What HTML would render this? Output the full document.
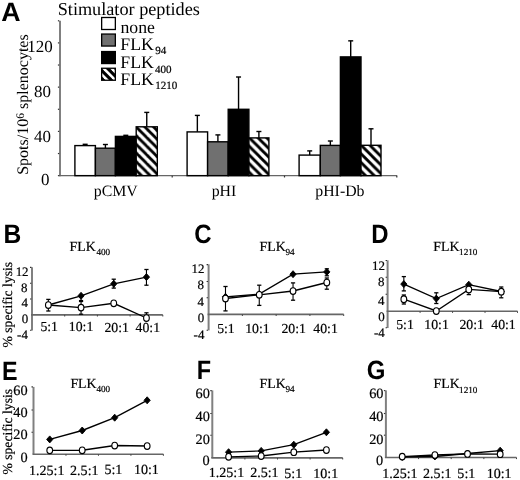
<!DOCTYPE html>
<html><head><meta charset="utf-8"><style>
html,body{margin:0;padding:0;background:#fff;overflow:hidden;}
svg{display:block;text-rendering:geometricPrecision;will-change:transform;}
.r{font-family:"Liberation Serif",serif;}
.s{font-family:"Liberation Sans",sans-serif;}
.b{stroke:#000;stroke-width:0.2px;}
</style></head><body>
<svg width="520" height="480" viewBox="0 0 520 480">
<defs>
<pattern id="h1" patternUnits="userSpaceOnUse" x="0" y="0" width="8.67" height="8.67"><rect width="8.67" height="8.67" fill="#000"/><polygon points="0,-15.98 8.67,-7.31 8.67,-2.61 0,-11.28" fill="#fff"/><polygon points="0,-7.31 8.67,1.36 8.67,6.06 0,-2.61" fill="#fff"/><polygon points="0,1.36 8.67,10.03 8.67,14.73 0,6.06" fill="#fff"/><polygon points="0,10.03 8.67,18.7 8.67,23.4 0,14.73" fill="#fff"/></pattern>
<pattern id="h2" patternUnits="userSpaceOnUse" x="0" y="0" width="8.67" height="8.67"><rect width="8.67" height="8.67" fill="#000"/><polygon points="0,-14.27 8.67,-5.6 8.67,-0.9 0,-9.57" fill="#fff"/><polygon points="0,-5.6 8.67,3.07 8.67,7.77 0,-0.9" fill="#fff"/><polygon points="0,3.07 8.67,11.74 8.67,16.44 0,7.77" fill="#fff"/><polygon points="0,11.74 8.67,20.41 8.67,25.11 0,16.44" fill="#fff"/></pattern>
<pattern id="h3" patternUnits="userSpaceOnUse" x="0" y="0" width="8.67" height="8.67"><rect width="8.67" height="8.67" fill="#000"/><polygon points="0,-14.56 8.67,-5.89 8.67,-1.19 0,-9.86" fill="#fff"/><polygon points="0,-5.89 8.67,2.78 8.67,7.48 0,-1.19" fill="#fff"/><polygon points="0,2.78 8.67,11.45 8.67,16.15 0,7.48" fill="#fff"/><polygon points="0,11.45 8.67,20.12 8.67,24.82 0,16.15" fill="#fff"/></pattern>
<pattern id="hL" patternUnits="userSpaceOnUse" x="0" y="0" width="8.0" height="8.0"><rect width="8.0" height="8.0" fill="#000"/><polygon points="0,-13.0 8.0,-5.0 8.0,-1.4 0,-9.4" fill="#fff"/><polygon points="0,-5.0 8.0,3.0 8.0,6.6 0,-1.4" fill="#fff"/><polygon points="0,3.0 8.0,11.0 8.0,14.6 0,6.6" fill="#fff"/><polygon points="0,11.0 8.0,19.0 8.0,22.6 0,14.6" fill="#fff"/></pattern>
</defs>
<rect width="520" height="480" fill="#fff"/>
<text class="s" transform="translate(1.22,20.75) scale(1.007,1)" font-size="26.54" font-weight="bold">A</text>
<text class="s" transform="translate(3.59,243.0) scale(0.927,1)" font-size="26.54" font-weight="bold">B</text>
<text class="s" transform="translate(194.23,243.01) scale(0.903,1)" font-size="26.54" font-weight="bold">C</text>
<text class="s" transform="translate(371.23,243.0) scale(0.901,1)" font-size="26.54" font-weight="bold">D</text>
<text class="s" transform="translate(1.94,379.5) scale(0.878,1)" font-size="26.54" font-weight="bold">E</text>
<text class="s" transform="translate(196.65,378.5) scale(0.884,1)" font-size="26.54" font-weight="bold">F</text>
<text class="s" transform="translate(366.65,379.33) scale(0.904,1)" font-size="26.54" font-weight="bold">G</text>
<text class="r" transform="translate(57.69,14.7)" font-size="18.23">Stimulator peptides</text>
<rect x="101.65" y="17.5" width="13.7" height="12.0" fill="#fff" stroke="#000" stroke-width="1.3"/>
<rect x="101.65" y="34.05" width="13.7" height="12.0" fill="#707070" stroke="#000" stroke-width="1.3"/>
<rect x="101.65" y="51.55" width="13.7" height="12.0" fill="#000" stroke="#000" stroke-width="1.3"/>
<rect x="101.65" y="68.25" width="13.7" height="12.0" fill="url(#hL)" stroke="#000" stroke-width="1.3"/>
<text class="r" transform="translate(120.48,33.45)" font-size="17.73">none</text>
<text class="r" transform="translate(120.37,50.0)" font-size="17.73">FLK</text>
<text class="r" transform="translate(120.37,68.25)" font-size="17.73">FLK</text>
<text class="r" transform="translate(120.37,84.75)" font-size="17.73">FLK</text>
<text class="r b" transform="translate(155.29,53.93)" font-size="11.06">94</text>
<text class="r b" transform="translate(154.93,72.93)" font-size="11.06">400</text>
<text class="r b" transform="translate(155.13,89.43)" font-size="11.06">1210</text>
<line x1="60" y1="20.7" x2="60" y2="176.35" stroke="#808080" stroke-width="2"/>
<line x1="59" y1="175.65" x2="397.2" y2="175.65" stroke="#666666" stroke-width="1.4"/>
<line x1="57.9" y1="175.65" x2="59.2" y2="175.65" stroke="#333" stroke-width="1.2"/>
<line x1="57.9" y1="153.53" x2="59.2" y2="153.53" stroke="#333" stroke-width="1.2"/>
<line x1="57.9" y1="131.4" x2="59.2" y2="131.4" stroke="#333" stroke-width="1.2"/>
<line x1="57.9" y1="109.28" x2="59.2" y2="109.28" stroke="#333" stroke-width="1.2"/>
<line x1="57.9" y1="87.15" x2="59.2" y2="87.15" stroke="#333" stroke-width="1.2"/>
<line x1="57.9" y1="65.03" x2="59.2" y2="65.03" stroke="#333" stroke-width="1.2"/>
<line x1="57.9" y1="42.9" x2="59.2" y2="42.9" stroke="#333" stroke-width="1.2"/>
<line x1="57.9" y1="20.78" x2="59.2" y2="20.78" stroke="#333" stroke-width="1.2"/>
<line x1="172.2" y1="175.65" x2="172.2" y2="177.45" stroke="#333" stroke-width="1.2"/>
<line x1="284.5" y1="175.65" x2="284.5" y2="177.45" stroke="#333" stroke-width="1.2"/>
<line x1="396.8" y1="175.65" x2="396.8" y2="177.45" stroke="#333" stroke-width="1.2"/>
<text class="r" transform="translate(27.32,51.89)" font-size="16.94">120</text>
<text class="r" transform="translate(34.02,96.91)" font-size="16.94">80</text>
<text class="r" transform="translate(34.08,141.94)" font-size="16.94">40</text>
<text class="r" transform="translate(41.09,184.89)" font-size="16.94">0</text>
<text class="r" transform="translate(28.0,174.86) rotate(-90)" font-size="16.03">Spots/10<tspan font-size="0.72em" dy="-0.382em">6</tspan><tspan dy="0.275em"> splenocytes</tspan></text>
<line x1="85.15" y1="144.3" x2="85.15" y2="145.6" stroke="#000" stroke-width="1.4"/>
<line x1="82.65" y1="144.3" x2="87.65" y2="144.3" stroke="#000" stroke-width="1.4"/>
<rect x="74.9" y="145.6" width="20.5" height="30.05" fill="#fff" stroke="#000" stroke-width="1.4"/>
<line x1="105.4" y1="144.5" x2="105.4" y2="148.2" stroke="#000" stroke-width="1.4"/>
<line x1="102.9" y1="144.5" x2="107.9" y2="144.5" stroke="#000" stroke-width="1.4"/>
<rect x="95.4" y="148.2" width="20.0" height="27.45" fill="#707070" stroke="#000" stroke-width="1.4"/>
<line x1="125.8" y1="135.3" x2="125.8" y2="136.4" stroke="#000" stroke-width="1.4"/>
<line x1="123.3" y1="135.3" x2="128.3" y2="135.3" stroke="#000" stroke-width="1.4"/>
<rect x="115.4" y="136.4" width="20.8" height="39.25" fill="#000" stroke="#000" stroke-width="1.4"/>
<line x1="146.75" y1="112.4" x2="146.75" y2="126.8" stroke="#000" stroke-width="1.4"/>
<line x1="144.25" y1="112.4" x2="149.25" y2="112.4" stroke="#000" stroke-width="1.4"/>
<rect x="136.2" y="126.8" width="21.1" height="48.85" fill="url(#h1)" stroke="#000" stroke-width="1.4"/>
<line x1="197.35" y1="115.4" x2="197.35" y2="131.9" stroke="#000" stroke-width="1.4"/>
<line x1="194.85" y1="115.4" x2="199.85" y2="115.4" stroke="#000" stroke-width="1.4"/>
<rect x="187.1" y="131.9" width="20.5" height="43.75" fill="#fff" stroke="#000" stroke-width="1.4"/>
<line x1="217.9" y1="134.9" x2="217.9" y2="141.8" stroke="#000" stroke-width="1.4"/>
<line x1="215.4" y1="134.9" x2="220.4" y2="134.9" stroke="#000" stroke-width="1.4"/>
<rect x="207.6" y="141.8" width="20.6" height="33.85" fill="#707070" stroke="#000" stroke-width="1.4"/>
<line x1="238.55" y1="77.0" x2="238.55" y2="109.3" stroke="#000" stroke-width="1.4"/>
<line x1="236.05" y1="77.0" x2="241.05" y2="77.0" stroke="#000" stroke-width="1.4"/>
<rect x="228.2" y="109.3" width="20.7" height="66.35" fill="#000" stroke="#000" stroke-width="1.4"/>
<line x1="258.9" y1="131.5" x2="258.9" y2="137.9" stroke="#000" stroke-width="1.4"/>
<line x1="256.4" y1="131.5" x2="261.4" y2="131.5" stroke="#000" stroke-width="1.4"/>
<rect x="248.9" y="137.9" width="20.0" height="37.75" fill="url(#h2)" stroke="#000" stroke-width="1.4"/>
<line x1="309.7" y1="150.9" x2="309.7" y2="155.1" stroke="#000" stroke-width="1.4"/>
<line x1="307.2" y1="150.9" x2="312.2" y2="150.9" stroke="#000" stroke-width="1.4"/>
<rect x="299.1" y="155.1" width="21.2" height="20.55" fill="#fff" stroke="#000" stroke-width="1.4"/>
<line x1="330.35" y1="141.0" x2="330.35" y2="145.4" stroke="#000" stroke-width="1.4"/>
<line x1="327.85" y1="141.0" x2="332.85" y2="141.0" stroke="#000" stroke-width="1.4"/>
<rect x="320.3" y="145.4" width="20.1" height="30.25" fill="#707070" stroke="#000" stroke-width="1.4"/>
<line x1="350.7" y1="40.85" x2="350.7" y2="56.9" stroke="#000" stroke-width="1.4"/>
<line x1="348.2" y1="40.85" x2="353.2" y2="40.85" stroke="#000" stroke-width="1.4"/>
<rect x="340.4" y="56.9" width="20.6" height="118.75" fill="#000" stroke="#000" stroke-width="1.4"/>
<line x1="371.0" y1="128.8" x2="371.0" y2="145.3" stroke="#000" stroke-width="1.4"/>
<line x1="368.5" y1="128.8" x2="373.5" y2="128.8" stroke="#000" stroke-width="1.4"/>
<rect x="361.0" y="145.3" width="20.0" height="30.35" fill="url(#h3)" stroke="#000" stroke-width="1.4"/>
<text class="r" transform="translate(93.72,195.6)" font-size="15.85">pCMV</text>
<text class="r" transform="translate(211.68,195.5)" font-size="15.85">pHI</text>
<text class="r" transform="translate(315.26,195.84)" font-size="15.85">pHI-Db</text>
<text class="r b" transform="translate(69.62,251.0)" font-size="13.83">FLK</text>
<text class="r b" transform="translate(96.38,254.94)" font-size="9.18">400</text>
<line x1="32" y1="267.2" x2="32" y2="330.6" stroke="#808080" stroke-width="2"/>
<line x1="31" y1="314.9" x2="162.8" y2="314.9" stroke="#666666" stroke-width="1.6"/>
<line x1="64.7" y1="314.9" x2="64.7" y2="316.5" stroke="#444" stroke-width="1"/>
<line x1="97.4" y1="314.9" x2="97.4" y2="316.5" stroke="#444" stroke-width="1"/>
<line x1="130.1" y1="314.9" x2="130.1" y2="316.5" stroke="#444" stroke-width="1"/>
<line x1="162.8" y1="314.9" x2="162.8" y2="316.5" stroke="#444" stroke-width="1"/>
<line x1="30" y1="267.4" x2="31.4" y2="267.4" stroke="#333" stroke-width="1.1"/>
<line x1="30" y1="283.2" x2="31.4" y2="283.2" stroke="#333" stroke-width="1.1"/>
<line x1="30" y1="299.0" x2="31.4" y2="299.0" stroke="#333" stroke-width="1.1"/>
<line x1="30" y1="330.2" x2="31.4" y2="330.2" stroke="#333" stroke-width="1.1"/>
<line x1="48.35" y1="299.4" x2="48.35" y2="311" stroke="#000" stroke-width="1.1"/>
<line x1="46.25" y1="299.4" x2="50.45" y2="299.4" stroke="#000" stroke-width="1.3"/>
<line x1="46.25" y1="311" x2="50.45" y2="311" stroke="#000" stroke-width="1.3"/>
<line x1="81.05" y1="295.8" x2="81.05" y2="300.6" stroke="#000" stroke-width="1.1"/>
<line x1="78.95" y1="300.6" x2="83.15" y2="300.6" stroke="#000" stroke-width="1.3"/>
<line x1="113.75" y1="279.2" x2="113.75" y2="288.1" stroke="#000" stroke-width="1.1"/>
<line x1="111.65" y1="279.2" x2="115.85" y2="279.2" stroke="#000" stroke-width="1.3"/>
<line x1="111.65" y1="288.1" x2="115.85" y2="288.1" stroke="#000" stroke-width="1.3"/>
<line x1="146.45" y1="269.5" x2="146.45" y2="285.2" stroke="#000" stroke-width="1.1"/>
<line x1="144.35" y1="269.5" x2="148.55" y2="269.5" stroke="#000" stroke-width="1.3"/>
<line x1="144.35" y1="285.2" x2="148.55" y2="285.2" stroke="#000" stroke-width="1.3"/>
<line x1="81.05" y1="301.5" x2="81.05" y2="314.2" stroke="#000" stroke-width="1.1"/>
<line x1="78.95" y1="301.5" x2="83.15" y2="301.5" stroke="#000" stroke-width="1.3"/>
<line x1="78.95" y1="314.2" x2="83.15" y2="314.2" stroke="#000" stroke-width="1.3"/>
<line x1="146.45" y1="312.8" x2="146.45" y2="318" stroke="#000" stroke-width="1.1"/>
<line x1="144.35" y1="312.8" x2="148.55" y2="312.8" stroke="#000" stroke-width="1.3"/>
<polyline points="48.35,305 81.05,295.8 113.75,283.8 146.45,277.1" fill="none" stroke="#000" stroke-width="1.35"/>
<polyline points="48.35,305 81.05,307.6 113.75,303.3 146.45,318" fill="none" stroke="#000" stroke-width="1.35"/>
<path d="M48.35 301.5L51.45 305L48.35 308.5L45.25 305Z" fill="#000" stroke="#000" stroke-width="0.9" stroke-linejoin="round"/>
<path d="M81.05 292.3L84.15 295.8L81.05 299.3L77.95 295.8Z" fill="#000" stroke="#000" stroke-width="0.9" stroke-linejoin="round"/>
<path d="M113.75 280.3L116.85 283.8L113.75 287.3L110.65 283.8Z" fill="#000" stroke="#000" stroke-width="0.9" stroke-linejoin="round"/>
<path d="M146.45 273.6L149.55 277.1L146.45 280.6L143.35 277.1Z" fill="#000" stroke="#000" stroke-width="0.9" stroke-linejoin="round"/>
<ellipse cx="48.35" cy="305" rx="2.85" ry="3.3" fill="#fff" stroke="#000" stroke-width="1.15"/>
<ellipse cx="81.05" cy="307.6" rx="2.85" ry="3.3" fill="#fff" stroke="#000" stroke-width="1.15"/>
<ellipse cx="113.75" cy="303.3" rx="2.85" ry="3.3" fill="#fff" stroke="#000" stroke-width="1.15"/>
<ellipse cx="146.45" cy="318" rx="2.85" ry="3.3" fill="#fff" stroke="#000" stroke-width="1.15"/>
<text class="r b" transform="translate(259.62,251.0)" font-size="13.83">FLK</text>
<text class="r b" transform="translate(285.49,254.94)" font-size="9.18">94</text>
<line x1="208.6" y1="264.3" x2="208.6" y2="330.4" stroke="#808080" stroke-width="2"/>
<line x1="207.6" y1="314.4" x2="343.7" y2="314.4" stroke="#666666" stroke-width="1.6"/>
<line x1="242.38" y1="314.4" x2="242.38" y2="316.0" stroke="#444" stroke-width="1"/>
<line x1="276.15" y1="314.4" x2="276.15" y2="316.0" stroke="#444" stroke-width="1"/>
<line x1="309.92" y1="314.4" x2="309.92" y2="316.0" stroke="#444" stroke-width="1"/>
<line x1="343.7" y1="314.4" x2="343.7" y2="316.0" stroke="#444" stroke-width="1"/>
<line x1="206.6" y1="264.6" x2="208.0" y2="264.6" stroke="#333" stroke-width="1.1"/>
<line x1="206.6" y1="281.5" x2="208.0" y2="281.5" stroke="#333" stroke-width="1.1"/>
<line x1="206.6" y1="297.8" x2="208.0" y2="297.8" stroke="#333" stroke-width="1.1"/>
<line x1="206.6" y1="330.2" x2="208.0" y2="330.2" stroke="#333" stroke-width="1.1"/>
<line x1="326.81" y1="268.8" x2="326.81" y2="275.8" stroke="#000" stroke-width="1.1"/>
<line x1="324.71" y1="268.8" x2="328.91" y2="268.8" stroke="#000" stroke-width="1.3"/>
<line x1="324.71" y1="275.8" x2="328.91" y2="275.8" stroke="#000" stroke-width="1.3"/>
<line x1="225.49" y1="286.5" x2="225.49" y2="310.9" stroke="#000" stroke-width="1.1"/>
<line x1="223.39" y1="286.5" x2="227.59" y2="286.5" stroke="#000" stroke-width="1.3"/>
<line x1="223.39" y1="310.9" x2="227.59" y2="310.9" stroke="#000" stroke-width="1.3"/>
<line x1="259.26" y1="285.2" x2="259.26" y2="305.4" stroke="#000" stroke-width="1.1"/>
<line x1="257.16" y1="285.2" x2="261.36" y2="285.2" stroke="#000" stroke-width="1.3"/>
<line x1="257.16" y1="305.4" x2="261.36" y2="305.4" stroke="#000" stroke-width="1.3"/>
<line x1="293.04" y1="282.9" x2="293.04" y2="300.2" stroke="#000" stroke-width="1.1"/>
<line x1="290.94" y1="282.9" x2="295.14" y2="282.9" stroke="#000" stroke-width="1.3"/>
<line x1="290.94" y1="300.2" x2="295.14" y2="300.2" stroke="#000" stroke-width="1.3"/>
<line x1="326.81" y1="278" x2="326.81" y2="289.2" stroke="#000" stroke-width="1.1"/>
<line x1="324.71" y1="278" x2="328.91" y2="278" stroke="#000" stroke-width="1.3"/>
<line x1="324.71" y1="289.2" x2="328.91" y2="289.2" stroke="#000" stroke-width="1.3"/>
<polyline points="225.49,296.8 259.26,294.2 293.04,274.2 326.81,271.9" fill="none" stroke="#000" stroke-width="1.35"/>
<polyline points="225.49,298.5 259.26,294.8 293.04,291 326.81,282.5" fill="none" stroke="#000" stroke-width="1.35"/>
<path d="M225.49 293.3L228.59 296.8L225.49 300.3L222.39 296.8Z" fill="#000" stroke="#000" stroke-width="0.9" stroke-linejoin="round"/>
<path d="M259.26 290.7L262.36 294.2L259.26 297.7L256.16 294.2Z" fill="#000" stroke="#000" stroke-width="0.9" stroke-linejoin="round"/>
<path d="M293.04 270.7L296.14 274.2L293.04 277.7L289.94 274.2Z" fill="#000" stroke="#000" stroke-width="0.9" stroke-linejoin="round"/>
<path d="M326.81 268.4L329.91 271.9L326.81 275.4L323.71 271.9Z" fill="#000" stroke="#000" stroke-width="0.9" stroke-linejoin="round"/>
<ellipse cx="225.49" cy="298.5" rx="2.85" ry="3.3" fill="#fff" stroke="#000" stroke-width="1.15"/>
<ellipse cx="259.26" cy="294.8" rx="2.85" ry="3.3" fill="#fff" stroke="#000" stroke-width="1.15"/>
<ellipse cx="293.04" cy="291" rx="2.85" ry="3.3" fill="#fff" stroke="#000" stroke-width="1.15"/>
<ellipse cx="326.81" cy="282.5" rx="2.85" ry="3.3" fill="#fff" stroke="#000" stroke-width="1.15"/>
<text class="r b" transform="translate(433.31,251.0)" font-size="13.83">FLK</text>
<text class="r b" transform="translate(459.05,254.94)" font-size="9.18">1210</text>
<line x1="387.6" y1="260.3" x2="387.6" y2="328.0" stroke="#808080" stroke-width="2"/>
<line x1="386.6" y1="311.3" x2="517.5" y2="311.3" stroke="#666666" stroke-width="1.6"/>
<line x1="420.08" y1="311.3" x2="420.08" y2="312.9" stroke="#444" stroke-width="1"/>
<line x1="452.55" y1="311.3" x2="452.55" y2="312.9" stroke="#444" stroke-width="1"/>
<line x1="485.02" y1="311.3" x2="485.02" y2="312.9" stroke="#444" stroke-width="1"/>
<line x1="517.5" y1="311.3" x2="517.5" y2="312.9" stroke="#444" stroke-width="1"/>
<line x1="385.6" y1="260.5" x2="387.0" y2="260.5" stroke="#333" stroke-width="1.1"/>
<line x1="385.6" y1="277.3" x2="387.0" y2="277.3" stroke="#333" stroke-width="1.1"/>
<line x1="385.6" y1="294.2" x2="387.0" y2="294.2" stroke="#333" stroke-width="1.1"/>
<line x1="385.6" y1="327.8" x2="387.0" y2="327.8" stroke="#333" stroke-width="1.1"/>
<line x1="403.84" y1="276.6" x2="403.84" y2="290.9" stroke="#000" stroke-width="1.1"/>
<line x1="401.74" y1="276.6" x2="405.94" y2="276.6" stroke="#000" stroke-width="1.3"/>
<line x1="401.74" y1="290.9" x2="405.94" y2="290.9" stroke="#000" stroke-width="1.3"/>
<line x1="436.31" y1="292.8" x2="436.31" y2="303.5" stroke="#000" stroke-width="1.1"/>
<line x1="434.21" y1="292.8" x2="438.41" y2="292.8" stroke="#000" stroke-width="1.3"/>
<line x1="434.21" y1="303.5" x2="438.41" y2="303.5" stroke="#000" stroke-width="1.3"/>
<line x1="501.26" y1="287" x2="501.26" y2="297.8" stroke="#000" stroke-width="1.1"/>
<line x1="499.16" y1="287" x2="503.36" y2="287" stroke="#000" stroke-width="1.3"/>
<line x1="499.16" y1="297.8" x2="503.36" y2="297.8" stroke="#000" stroke-width="1.3"/>
<line x1="403.84" y1="295" x2="403.84" y2="304" stroke="#000" stroke-width="1.1"/>
<line x1="401.74" y1="295" x2="405.94" y2="295" stroke="#000" stroke-width="1.3"/>
<line x1="401.74" y1="304" x2="405.94" y2="304" stroke="#000" stroke-width="1.3"/>
<line x1="468.79" y1="285.6" x2="468.79" y2="294.6" stroke="#000" stroke-width="1.1"/>
<line x1="466.69" y1="285.6" x2="470.89" y2="285.6" stroke="#000" stroke-width="1.3"/>
<line x1="466.69" y1="294.6" x2="470.89" y2="294.6" stroke="#000" stroke-width="1.3"/>
<polyline points="403.84,284.1 436.31,298.6 468.79,284.7 501.26,291.5" fill="none" stroke="#000" stroke-width="1.35"/>
<polyline points="403.84,299.2 436.31,311 468.79,289.4 501.26,291.7" fill="none" stroke="#000" stroke-width="1.35"/>
<path d="M403.84 280.6L406.94 284.1L403.84 287.6L400.74 284.1Z" fill="#000" stroke="#000" stroke-width="0.9" stroke-linejoin="round"/>
<path d="M436.31 295.1L439.41 298.6L436.31 302.1L433.21 298.6Z" fill="#000" stroke="#000" stroke-width="0.9" stroke-linejoin="round"/>
<path d="M468.79 281.2L471.89 284.7L468.79 288.2L465.69 284.7Z" fill="#000" stroke="#000" stroke-width="0.9" stroke-linejoin="round"/>
<path d="M501.26 288.0L504.36 291.5L501.26 295.0L498.16 291.5Z" fill="#000" stroke="#000" stroke-width="0.9" stroke-linejoin="round"/>
<ellipse cx="403.84" cy="299.2" rx="2.85" ry="3.3" fill="#fff" stroke="#000" stroke-width="1.15"/>
<ellipse cx="436.31" cy="311" rx="2.85" ry="3.3" fill="#fff" stroke="#000" stroke-width="1.15"/>
<ellipse cx="468.79" cy="289.4" rx="2.85" ry="3.3" fill="#fff" stroke="#000" stroke-width="1.15"/>
<ellipse cx="501.26" cy="291.7" rx="2.85" ry="3.3" fill="#fff" stroke="#000" stroke-width="1.15"/>
<text class="r b" transform="translate(70.42,388.0)" font-size="13.83">FLK</text>
<text class="r b" transform="translate(96.38,392.44)" font-size="9.18">400</text>
<line x1="33.5" y1="386.9" x2="33.5" y2="454.2" stroke="#808080" stroke-width="2"/>
<line x1="32.5" y1="454.2" x2="163.4" y2="454.2" stroke="#666666" stroke-width="1.6"/>
<line x1="65.97" y1="454.2" x2="65.97" y2="455.8" stroke="#444" stroke-width="1"/>
<line x1="98.45" y1="454.2" x2="98.45" y2="455.8" stroke="#444" stroke-width="1"/>
<line x1="130.93" y1="454.2" x2="130.93" y2="455.8" stroke="#444" stroke-width="1"/>
<line x1="163.4" y1="454.2" x2="163.4" y2="455.8" stroke="#444" stroke-width="1"/>
<line x1="31.5" y1="386.9" x2="32.9" y2="386.9" stroke="#333" stroke-width="1.1"/>
<line x1="31.5" y1="410" x2="32.9" y2="410" stroke="#333" stroke-width="1.1"/>
<line x1="31.5" y1="432.2" x2="32.9" y2="432.2" stroke="#333" stroke-width="1.1"/>
<polyline points="49.74,439.4 82.21,430.5 114.69,417.7 147.16,400.3" fill="none" stroke="#000" stroke-width="1.35"/>
<polyline points="49.74,450.35 82.21,450.25 114.69,445.5 147.16,446" fill="none" stroke="#000" stroke-width="1.35"/>
<path d="M49.74 435.9L52.84 439.4L49.74 442.9L46.64 439.4Z" fill="#000" stroke="#000" stroke-width="0.9" stroke-linejoin="round"/>
<path d="M82.21 427.0L85.31 430.5L82.21 434.0L79.11 430.5Z" fill="#000" stroke="#000" stroke-width="0.9" stroke-linejoin="round"/>
<path d="M114.69 414.2L117.79 417.7L114.69 421.2L111.59 417.7Z" fill="#000" stroke="#000" stroke-width="0.9" stroke-linejoin="round"/>
<path d="M147.16 396.8L150.26 400.3L147.16 403.8L144.06 400.3Z" fill="#000" stroke="#000" stroke-width="0.9" stroke-linejoin="round"/>
<ellipse cx="49.74" cy="450.35" rx="2.85" ry="3.3" fill="#fff" stroke="#000" stroke-width="1.15"/>
<ellipse cx="82.21" cy="450.25" rx="2.85" ry="3.3" fill="#fff" stroke="#000" stroke-width="1.15"/>
<ellipse cx="114.69" cy="445.5" rx="2.85" ry="3.3" fill="#fff" stroke="#000" stroke-width="1.15"/>
<ellipse cx="147.16" cy="446" rx="2.85" ry="3.3" fill="#fff" stroke="#000" stroke-width="1.15"/>
<text class="r b" transform="translate(259.62,388.0)" font-size="13.83">FLK</text>
<text class="r b" transform="translate(285.49,392.44)" font-size="9.18">94</text>
<line x1="212.3" y1="390.4" x2="212.3" y2="457.9" stroke="#808080" stroke-width="2"/>
<line x1="211.3" y1="457.9" x2="342.7" y2="457.9" stroke="#666666" stroke-width="1.6"/>
<line x1="244.9" y1="457.9" x2="244.9" y2="459.5" stroke="#444" stroke-width="1"/>
<line x1="277.5" y1="457.9" x2="277.5" y2="459.5" stroke="#444" stroke-width="1"/>
<line x1="310.1" y1="457.9" x2="310.1" y2="459.5" stroke="#444" stroke-width="1"/>
<line x1="342.7" y1="457.9" x2="342.7" y2="459.5" stroke="#444" stroke-width="1"/>
<line x1="210.3" y1="390.6" x2="211.7" y2="390.6" stroke="#333" stroke-width="1.1"/>
<line x1="210.3" y1="413.5" x2="211.7" y2="413.5" stroke="#333" stroke-width="1.1"/>
<line x1="210.3" y1="435.2" x2="211.7" y2="435.2" stroke="#333" stroke-width="1.1"/>
<polyline points="228.6,452.2 261.2,450.9 293.8,444.7 326.4,432.3" fill="none" stroke="#000" stroke-width="1.35"/>
<polyline points="228.6,456.8 261.2,456 293.8,452.2 326.4,450.0" fill="none" stroke="#000" stroke-width="1.35"/>
<path d="M228.6 448.7L231.7 452.2L228.6 455.7L225.5 452.2Z" fill="#000" stroke="#000" stroke-width="0.9" stroke-linejoin="round"/>
<path d="M261.2 447.4L264.3 450.9L261.2 454.4L258.1 450.9Z" fill="#000" stroke="#000" stroke-width="0.9" stroke-linejoin="round"/>
<path d="M293.8 441.2L296.9 444.7L293.8 448.2L290.7 444.7Z" fill="#000" stroke="#000" stroke-width="0.9" stroke-linejoin="round"/>
<path d="M326.4 428.8L329.5 432.3L326.4 435.8L323.3 432.3Z" fill="#000" stroke="#000" stroke-width="0.9" stroke-linejoin="round"/>
<ellipse cx="228.6" cy="456.8" rx="2.85" ry="3.3" fill="#fff" stroke="#000" stroke-width="1.15"/>
<ellipse cx="261.2" cy="456" rx="2.85" ry="3.3" fill="#fff" stroke="#000" stroke-width="1.15"/>
<ellipse cx="293.8" cy="452.2" rx="2.85" ry="3.3" fill="#fff" stroke="#000" stroke-width="1.15"/>
<ellipse cx="326.4" cy="450.0" rx="2.85" ry="3.3" fill="#fff" stroke="#000" stroke-width="1.15"/>
<text class="r b" transform="translate(433.5,388.0)" font-size="13.83">FLK</text>
<text class="r b" transform="translate(459.05,392.94)" font-size="9.18">1210</text>
<line x1="385.9" y1="390.4" x2="385.9" y2="457.5" stroke="#808080" stroke-width="2"/>
<line x1="384.9" y1="457.5" x2="516.5" y2="457.5" stroke="#666666" stroke-width="1.6"/>
<line x1="418.55" y1="457.5" x2="418.55" y2="459.1" stroke="#444" stroke-width="1"/>
<line x1="451.2" y1="457.5" x2="451.2" y2="459.1" stroke="#444" stroke-width="1"/>
<line x1="483.85" y1="457.5" x2="483.85" y2="459.1" stroke="#444" stroke-width="1"/>
<line x1="516.5" y1="457.5" x2="516.5" y2="459.1" stroke="#444" stroke-width="1"/>
<line x1="383.9" y1="390.6" x2="385.3" y2="390.6" stroke="#333" stroke-width="1.1"/>
<line x1="383.9" y1="413.5" x2="385.3" y2="413.5" stroke="#333" stroke-width="1.1"/>
<line x1="383.9" y1="435.2" x2="385.3" y2="435.2" stroke="#333" stroke-width="1.1"/>
<polyline points="402.22,457 434.88,456.5 467.52,453.5 500.18,450.7" fill="none" stroke="#000" stroke-width="1.35"/>
<polyline points="402.22,456.6 434.88,455 467.52,453.9 500.18,454.2" fill="none" stroke="#000" stroke-width="1.35"/>
<path d="M402.22 453.5L405.32 457L402.22 460.5L399.12 457Z" fill="#000" stroke="#000" stroke-width="0.9" stroke-linejoin="round"/>
<path d="M434.88 453.0L437.98 456.5L434.88 460.0L431.77 456.5Z" fill="#000" stroke="#000" stroke-width="0.9" stroke-linejoin="round"/>
<path d="M467.52 450.0L470.62 453.5L467.52 457.0L464.42 453.5Z" fill="#000" stroke="#000" stroke-width="0.9" stroke-linejoin="round"/>
<path d="M500.18 447.2L503.28 450.7L500.18 454.2L497.07 450.7Z" fill="#000" stroke="#000" stroke-width="0.9" stroke-linejoin="round"/>
<ellipse cx="402.22" cy="456.6" rx="2.85" ry="3.3" fill="#fff" stroke="#000" stroke-width="1.15"/>
<ellipse cx="434.88" cy="455" rx="2.85" ry="3.3" fill="#fff" stroke="#000" stroke-width="1.15"/>
<ellipse cx="467.52" cy="453.9" rx="2.85" ry="3.3" fill="#fff" stroke="#000" stroke-width="1.15"/>
<ellipse cx="500.18" cy="454.2" rx="2.85" ry="3.3" fill="#fff" stroke="#000" stroke-width="1.15"/>
<text class="r b" transform="translate(15.63,275.5)" font-size="12.96">12</text>
<text class="r b" transform="translate(20.93,291.73)" font-size="12.96">8</text>
<text class="r b" transform="translate(21.48,307.0)" font-size="12.96">4</text>
<text class="r b" transform="translate(21.72,322.98)" font-size="12.96">0</text>
<text class="r b" transform="translate(17.08,339.0)" font-size="12.96">-4</text>
<text class="r b" transform="translate(191.59,273.0)" font-size="12.96">12</text>
<text class="r b" transform="translate(197.53,288.8)" font-size="12.96">8</text>
<text class="r b" transform="translate(197.48,306.0)" font-size="12.96">4</text>
<text class="r b" transform="translate(197.72,322.48)" font-size="12.96">0</text>
<text class="r b" transform="translate(193.6,338.5)" font-size="12.96">-4</text>
<text class="r b" transform="translate(371.95,270.0)" font-size="12.96">12</text>
<text class="r b" transform="translate(377.94,286.26)" font-size="12.96">8</text>
<text class="r b" transform="translate(377.98,304.5)" font-size="12.96">4</text>
<text class="r b" transform="translate(378.32,320.95)" font-size="12.96">0</text>
<text class="r b" transform="translate(373.93,336.5)" font-size="12.96">-4</text>
<text class="r b" transform="translate(13.35,395.3)" font-size="14.32">60</text>
<text class="r b" transform="translate(13.35,416.8)" font-size="14.32">40</text>
<text class="r b" transform="translate(13.35,439.3)" font-size="14.32">20</text>
<text class="r b" transform="translate(20.43,462.36)" font-size="14.32">0</text>
<text class="r b" transform="translate(195.57,398.36)" font-size="14.32">60</text>
<text class="r b" transform="translate(195.57,420.87)" font-size="14.32">40</text>
<text class="r b" transform="translate(195.57,443.87)" font-size="14.32">20</text>
<text class="r b" transform="translate(202.58,465.39)" font-size="14.32">0</text>
<text class="r b" transform="translate(369.2,398.33)" font-size="14.32">60</text>
<text class="r b" transform="translate(369.2,420.86)" font-size="14.32">40</text>
<text class="r b" transform="translate(369.2,443.86)" font-size="14.32">20</text>
<text class="r b" transform="translate(376.02,465.31)" font-size="14.32">0</text>
<text class="r b" transform="translate(40.4,331.18)" font-size="13.78">5:1</text>
<text class="r b" transform="translate(68.83,331.28)" font-size="13.78">10:1</text>
<text class="r b" transform="translate(104.45,331.73)" font-size="13.78">20:1</text>
<text class="r b" transform="translate(135.58,331.75)" font-size="13.78">40:1</text>
<text class="r b" transform="translate(217.13,333.21)" font-size="13.78">5:1</text>
<text class="r b" transform="translate(245.18,333.27)" font-size="13.78">10:1</text>
<text class="r b" transform="translate(281.45,333.23)" font-size="13.78">20:1</text>
<text class="r b" transform="translate(313.29,333.25)" font-size="13.78">40:1</text>
<text class="r b" transform="translate(396.19,329.16)" font-size="13.78">5:1</text>
<text class="r b" transform="translate(424.31,329.28)" font-size="13.78">10:1</text>
<text class="r b" transform="translate(459.38,329.26)" font-size="13.78">20:1</text>
<text class="r b" transform="translate(491.25,329.24)" font-size="13.78">40:1</text>
<text class="r b" transform="translate(29.01,474.74)" font-size="14.04">1.25:1</text>
<text class="r b" transform="translate(70.1,474.7)" font-size="14.04">2.5:1</text>
<text class="r b" transform="translate(104.42,474.19)" font-size="14.04">5:1</text>
<text class="r b" transform="translate(133.93,474.2)" font-size="14.04">10:1</text>
<text class="r b" transform="translate(208.81,477.21)" font-size="14.04">1.25:1</text>
<text class="r b" transform="translate(250.16,477.19)" font-size="14.04">2.5:1</text>
<text class="r b" transform="translate(284.33,478.18)" font-size="14.04">5:1</text>
<text class="r b" transform="translate(313.24,478.2)" font-size="14.04">10:1</text>
<text class="r b" transform="translate(382.14,478.23)" font-size="14.04">1.25:1</text>
<text class="r b" transform="translate(423.1,478.2)" font-size="14.04">2.5:1</text>
<text class="r b" transform="translate(457.37,478.18)" font-size="14.04">5:1</text>
<text class="r b" transform="translate(486.66,478.23)" font-size="14.04">10:1</text>
<text class="r b" transform="translate(11.9,347.51) rotate(-90)" font-size="13.65">% specific lysis</text>
<text class="r b" transform="translate(12.2,474.57) rotate(-90)" font-size="13.65">% specific lysis</text>
</svg>
</body></html>
